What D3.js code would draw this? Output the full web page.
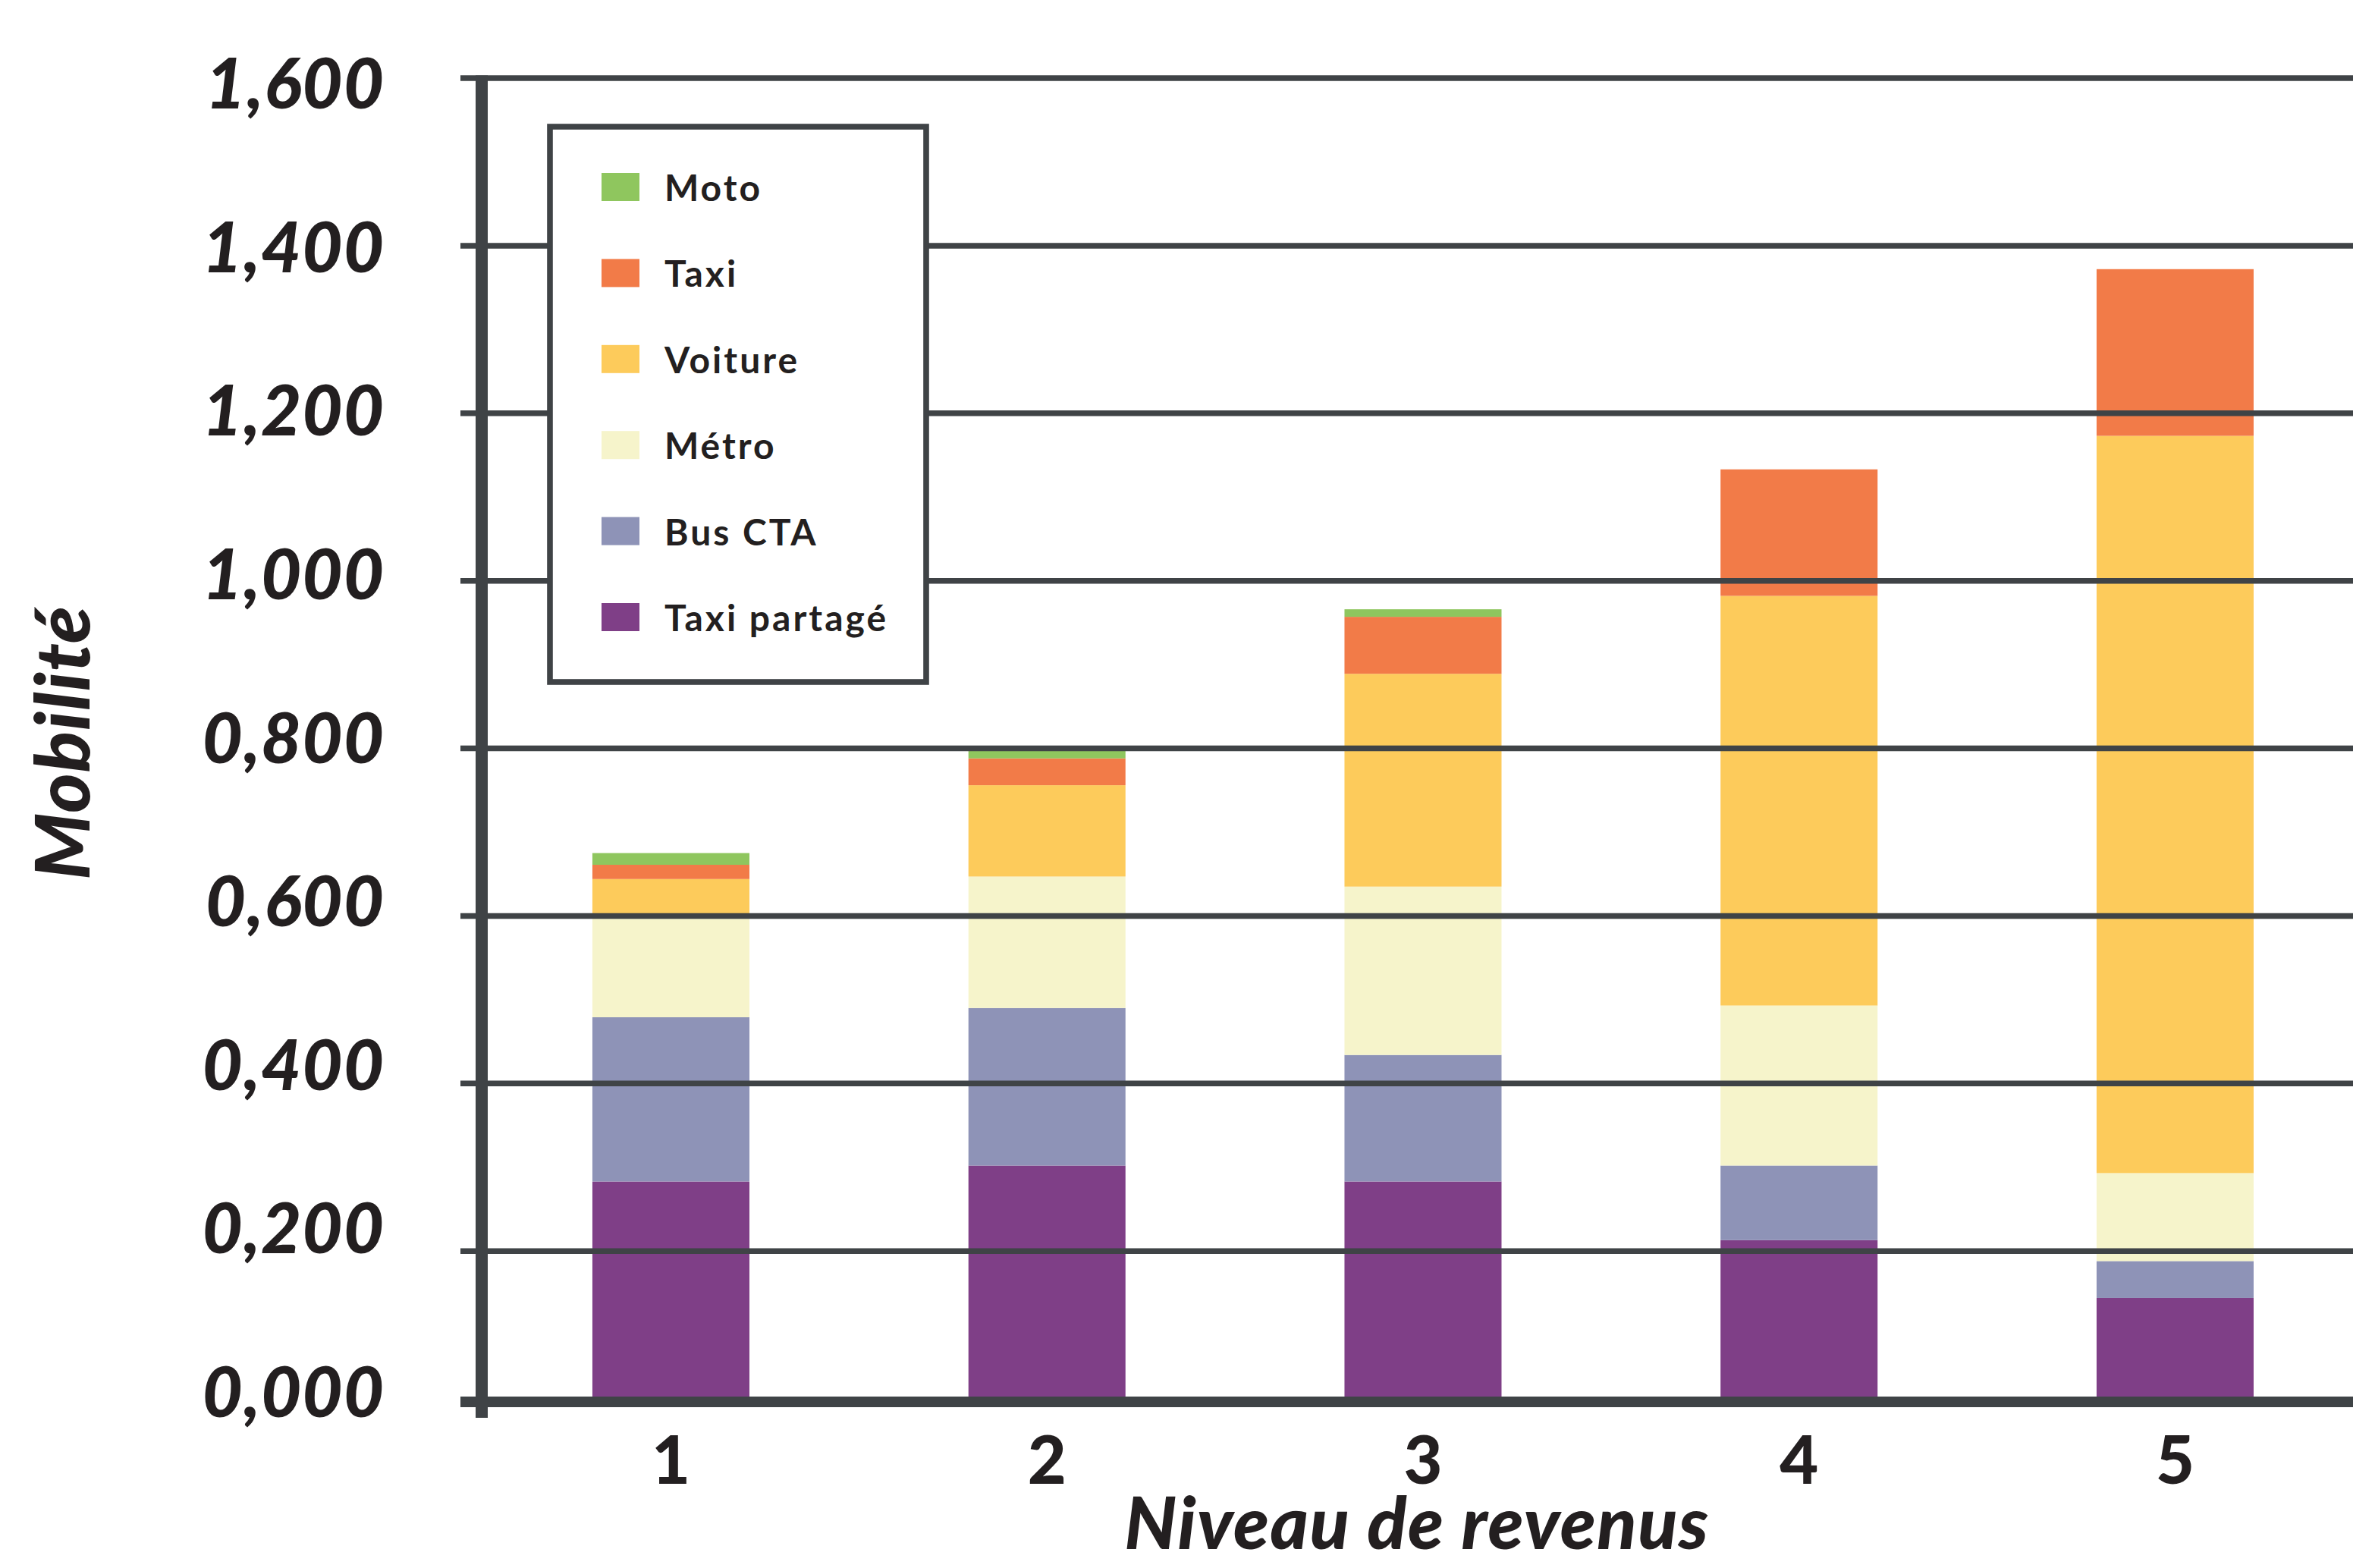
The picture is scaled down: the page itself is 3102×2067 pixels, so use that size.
<!DOCTYPE html>
<html>
<head>
<meta charset="utf-8">
<script src="https://cdn.jsdelivr.net/npm/d3@7/dist/d3.min.js"></script>
<style>
  html, body { margin: 0; padding: 0; background: #ffffff; }
  svg { display: block; }
</style>
</head>
<body>
<svg id="chart" width="3102" height="2067"></svg>
<script>
// ---- Data ----
const categories = ["1", "2", "3", "4", "5"];
const seriesNames = ["Taxi partagé", "Bus CTA", "Métro", "Voiture", "Taxi", "Moto"];
const taxiPartage = [0.283, 0.302, 0.283, 0.213, 0.144];
const busCTA      = [0.196, 0.188, 0.151, 0.089, 0.044];
const metro       = [0.124, 0.157, 0.201, 0.191, 0.105];
const voiture     = [0.041, 0.109, 0.254, 0.489, 0.880];
const taxi        = [0.017, 0.032, 0.068, 0.151, 0.199];
const moto        = [0.014, 0.009, 0.009, 0.000, 0.000];
const seriesColors = ["#7f3f87", "#8e93b7", "#f6f4cb", "#fdcb5b", "#f27b48", "#8fc65e"];
const legendOrder = ["Moto", "Taxi", "Voiture", "Métro", "Bus CTA", "Taxi partagé"];
const yTickValues = [0, 0.2, 0.4, 0.6, 0.8, 1.0, 1.2, 1.4, 1.6];
const yTickLabels = ["0,000", "0,200", "0,400", "0,600", "0,800", "1,000", "1,200", "1,400", "1,600"];
const xTitle = "Niveau de revenus";
const yTitle = "Mobilité";

const seriesValues = [taxiPartage, busCTA, metro, voiture, taxi, moto];
const table = categories.map((c, i) => {
  const row = { cat: c };
  seriesNames.forEach((s, k) => { row[s] = seriesValues[k][i]; });
  return row;
});

// ---- Layout ----
const W = 3102, H = 2067;
const lineColor = "#3f4346";
const textColor = "#231f20";
const baseY = 1841;          // top of the thick baseline (bars end here)
const axisX = 635;
const FONT = "Lato, 'Open Sans', sans-serif";

const svg = d3.select("#chart");

const x = d3.scaleBand()
  .domain(categories)
  .range([636.6, 636.6 + 5 * 495.75])
  .paddingInner(0.5824)
  .paddingOuter(0.2912);

const y = d3.scaleLinear().domain([0, 1.6]).range([1870, 103]);
const yLabel = d3.scaleLinear().domain([0, 1.6]).range([1835, 110]);

const color = d3.scaleOrdinal().domain(seriesNames).range(seriesColors);

// clip bars at baseline
svg.append("defs").append("clipPath").attr("id", "plotclip")
  .append("rect").attr("x", 0).attr("y", 0).attr("width", W).attr("height", baseY);

const stacked = d3.stack().keys(seriesNames)(table);

svg.append("g").attr("clip-path", "url(#plotclip)")
  .selectAll("g").data(stacked).join("g")
  .attr("fill", d => color(d.key))
  .selectAll("rect").data(d => d).join("rect")
  .attr("x", d => x(d.data.cat))
  .attr("width", x.bandwidth())
  .attr("y", d => y(d[1]))
  .attr("height", d => Math.max(0, y(d[0]) - y(d[1])));

// gridlines (drawn over the bars)
svg.append("g").selectAll("line")
  .data(yTickValues.filter(v => v > 0)).join("line")
  .attr("x1", 607).attr("x2", W)
  .attr("y1", d => y(d)).attr("y2", d => y(d))
  .attr("stroke", lineColor).attr("stroke-width", 7.5);

// baseline
svg.append("line")
  .attr("x1", 607).attr("x2", W)
  .attr("y1", 1848).attr("y2", 1848)
  .attr("stroke", lineColor).attr("stroke-width", 14);

// vertical axis
svg.append("line")
  .attr("x1", axisX).attr("x2", axisX)
  .attr("y1", 99.5).attr("y2", 1869)
  .attr("stroke", lineColor).attr("stroke-width", 16);

// y tick labels
svg.append("g").selectAll("text")
  .data(yTickValues).join("text")
  .attr("x", 507)
  .attr("y", d => yLabel(d) + 33)
  .attr("text-anchor", "end")
  .attr("font-family", FONT)
  .attr("font-weight", 900)
  .attr("font-style", "italic")
  .attr("font-size", 92)
  .attr("letter-spacing", 1)
  .attr("fill", textColor)
  .text((d, i) => yTickLabels[i]);

// x tick labels
svg.append("g").selectAll("text")
  .data(categories).join("text")
  .attr("x", d => x(d) + x.bandwidth() / 2)
  .attr("y", 1956)
  .attr("text-anchor", "middle")
  .attr("font-family", FONT)
  .attr("font-weight", 900)
  .attr("font-size", 88)
  .attr("fill", textColor)
  .text(d => d);

// axis titles
svg.append("text")
  .attr("x", 1868).attr("y", 2042)
  .attr("text-anchor", "middle")
  .attr("font-family", FONT)
  .attr("font-weight", 900)
  .attr("font-style", "italic")
  .attr("font-size", 96)
  .attr("letter-spacing", 1.5)
  .attr("fill", textColor)
  .text(xTitle);

svg.append("text")
  .attr("transform", "translate(118,979) rotate(-90)")
  .attr("text-anchor", "middle")
  .attr("font-family", FONT)
  .attr("font-weight", 900)
  .attr("font-style", "italic")
  .attr("font-size", 100)
  .attr("letter-spacing", 1)
  .attr("fill", textColor)
  .text(yTitle);

// legend
const legend = svg.append("g");
legend.append("rect")
  .attr("x", 725).attr("y", 167).attr("width", 496).attr("height", 732)
  .attr("fill", "#ffffff").attr("stroke", lineColor).attr("stroke-width", 7.6);

const items = legend.selectAll("g.item").data(legendOrder).join("g").attr("class", "item")
  .attr("transform", (d, i) => `translate(0, ${228 + i * 113.4})`);
items.append("rect")
  .attr("x", 793).attr("y", 0).attr("width", 50).attr("height", 37)
  .attr("fill", d => color(d));
items.append("text")
  .attr("x", 876).attr("y", 37)
  .attr("font-family", FONT)
  .attr("font-weight", "bold")
  .attr("font-size", 48)
  .attr("letter-spacing", 3)
  .attr("fill", textColor)
  .text(d => d);
</script>
</body>
</html>
